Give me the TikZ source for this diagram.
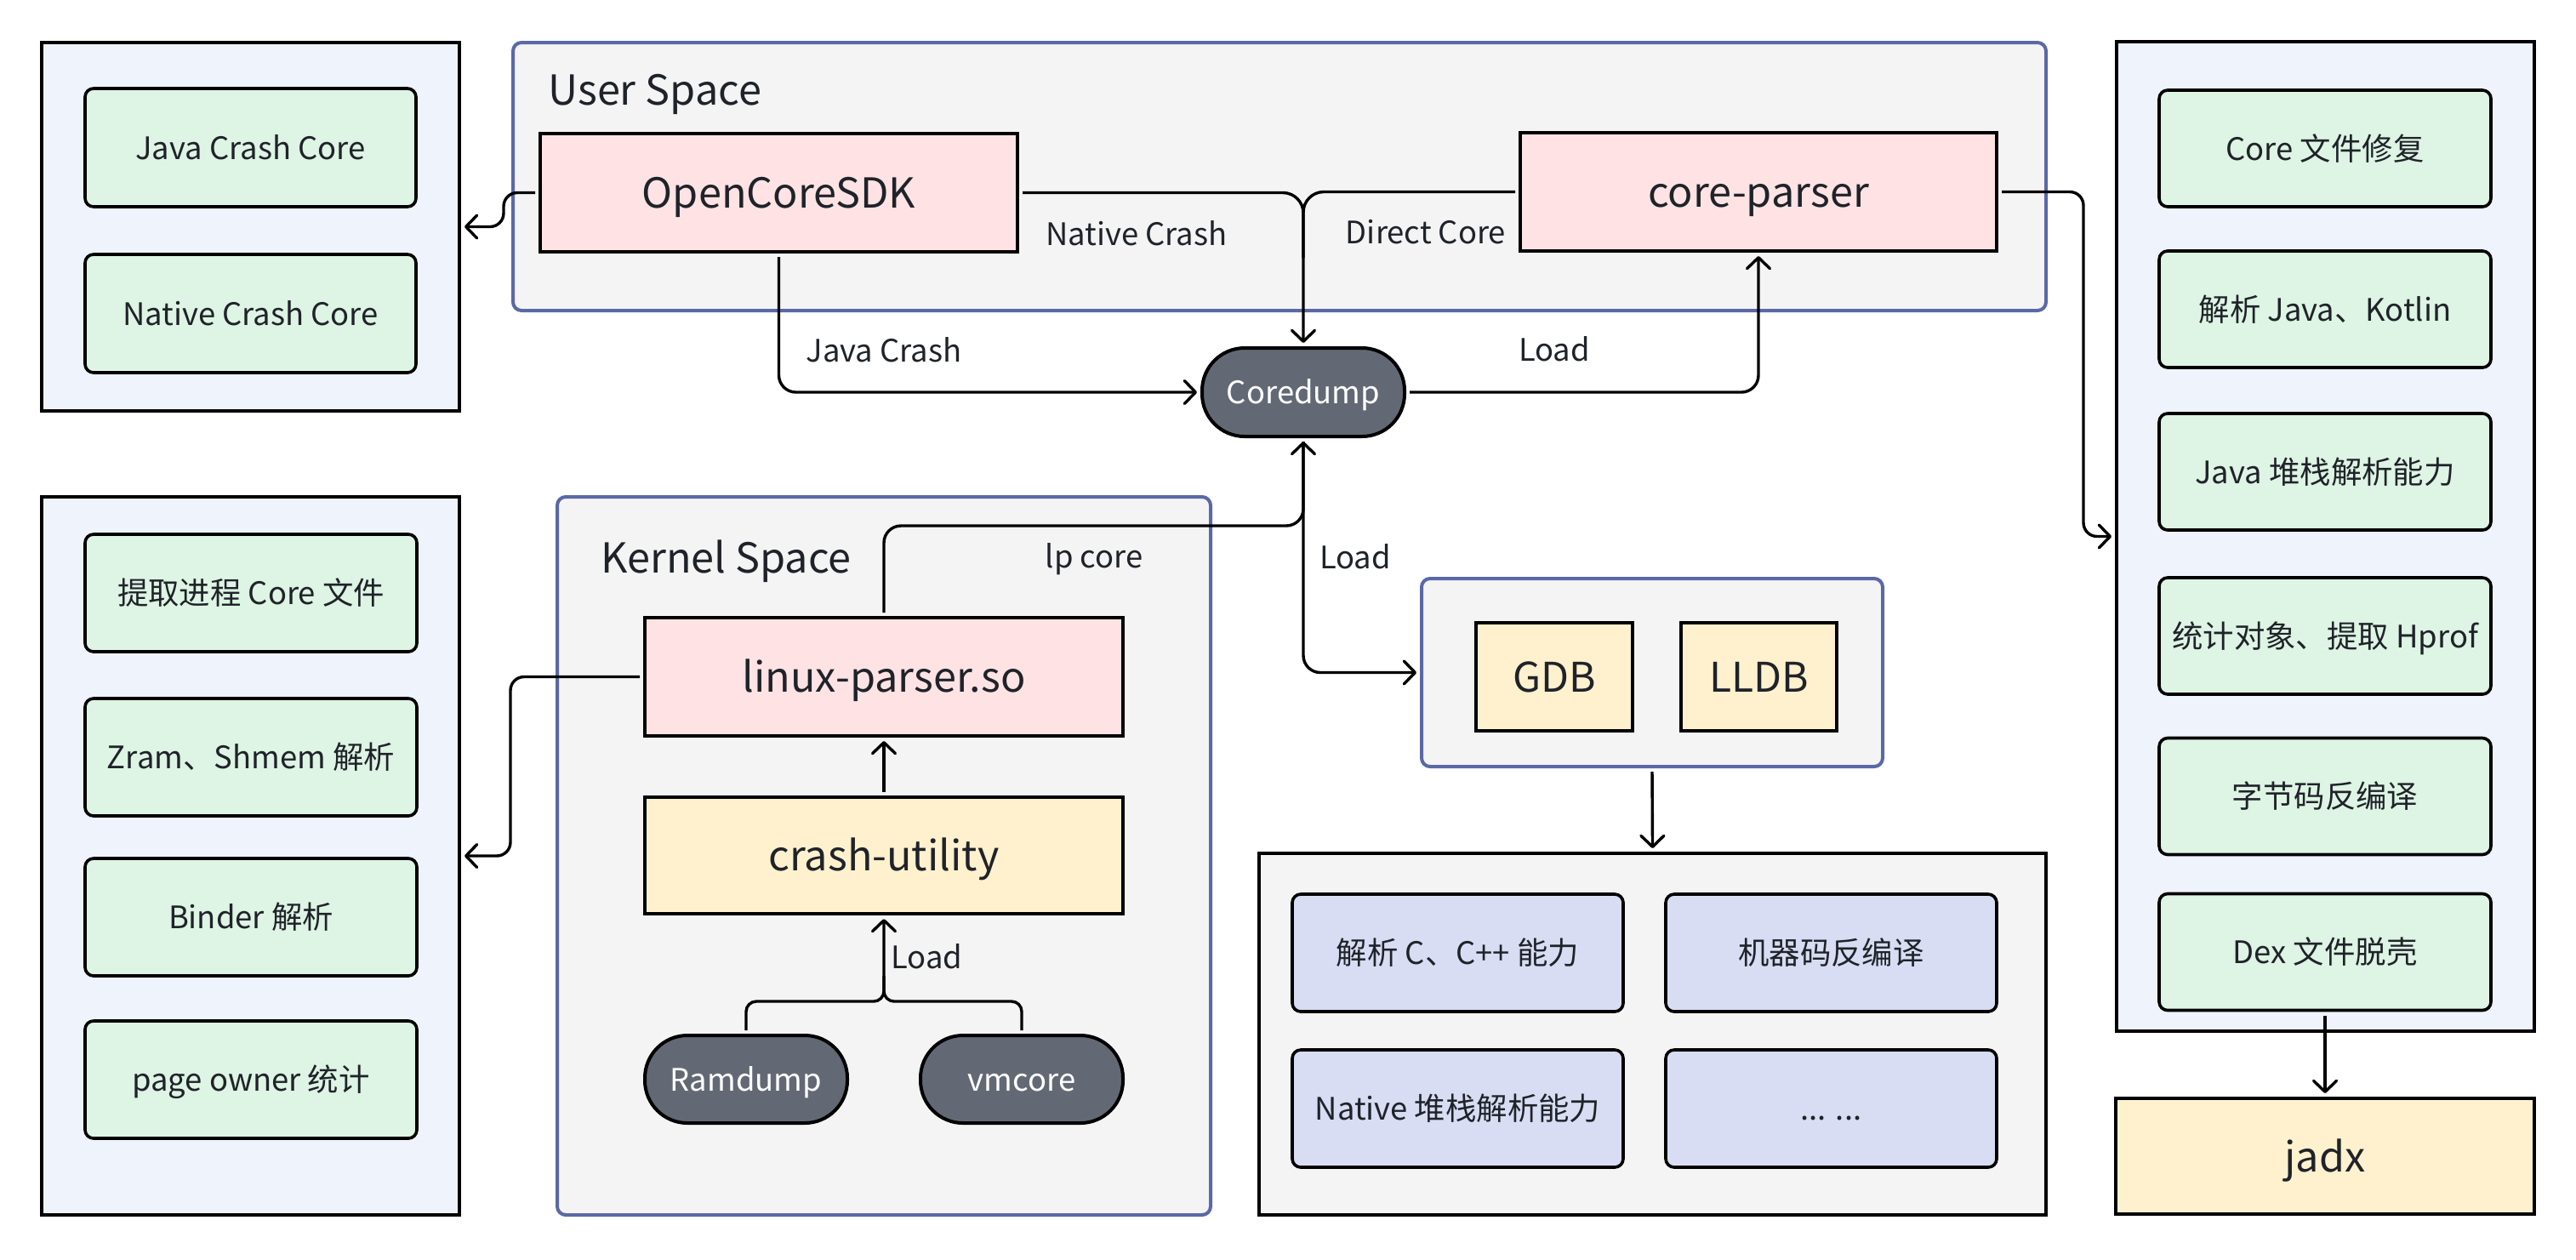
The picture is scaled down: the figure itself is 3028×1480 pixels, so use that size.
\documentclass[tikz,border=0pt]{standalone}
\usepackage{fontspec}
\setmainfont{Noto Sans CJK SC}
\usetikzlibrary{arrows.meta,calc}
\definecolor{panelblue}{HTML}{EEF3FC}
\definecolor{itemgreen}{HTML}{DEF4E4}
\definecolor{pinkc}{HTML}{FFE3E4}
\definecolor{yelc}{HTML}{FFF1CE}
\definecolor{lavc}{HTML}{D8DDF3}
\definecolor{contgray}{HTML}{F4F4F4}
\definecolor{contblue}{HTML}{5A69A6}
\definecolor{pillc}{HTML}{636974}
\definecolor{txt}{HTML}{1F2329}
\newcommand\myfs{\fontsize{18.2pt}{22pt}\selectfont}
\newcommand\myfb{\fontsize{24.3pt}{29pt}\selectfont}
\newcommand\myfg{\fontsize{24pt}{29pt}\selectfont}
\tikzset{
  wh/.style 2 args={minimum width=#1*0.5pt, minimum height=#2*0.5pt},
  nbase/.style={inner sep=0pt, outer sep=3pt, text=txt, align=center},
  smalltext/.style={font=\myfs, text height=14.6pt, text depth=0.7pt},
  bigtext/.style={font=\myfb, text height=19.4pt, text depth=1pt},
  panel/.style={nbase, draw=black, line width=2.25pt, fill=panelblue},
  gitem/.style={nbase, draw=black, line width=1.8pt, fill=itemgreen, rounded corners=5pt, smalltext},
  litem/.style={nbase, draw=black, line width=1.8pt, fill=lavc, rounded corners=5pt, smalltext},
  pinkbox/.style={nbase, draw=black, line width=2pt, fill=pinkc, bigtext},
  yelbox/.style={nbase, draw=black, line width=2pt, fill=yelc, bigtext},
  cont/.style={nbase, draw=contblue, line width=2pt, fill=contgray, rounded corners=5pt},
  graycont/.style={nbase, draw=black, line width=2pt, fill=contgray},
  pill/.style={nbase, draw=black, line width=2pt, fill=pillc, text=white, rounded corners=25pt, smalltext},
  lbl/.style={inner sep=0pt, text=txt, font=\myfs},
  conn/.style={draw=black, line width=1.7pt, rounded corners=10pt},
  arr/.style={conn, -{Straight Barb[length=6.5pt,width=13.5pt,round]}},
}
\begin{document}
\begin{tikzpicture}[x=0.5pt,y=-0.5pt]
\path[use as bounding box, fill=white] (0,0) rectangle (3028,1480);

% left top panel
\node[panel, wh={491}{433}] (ptl) at (294.5,266.5) {};
\node[gitem, wh={389}{139}] (jcc) at (294.5,173.5) {Java Crash Core};
\node[gitem, wh={389}{139}] (ncc) at (294.5,368.5) {Native Crash Core};

% left bottom panel
\node[panel, wh={491}{844}] (plb) at (294.5,1006) {};
\node[gitem, wh={390}{138}] (k1) at (295,697) {提取进程 Core 文件};
\node[gitem, wh={390}{138}] (k2) at (295,890) {Zram、Shmem 解析};
\node[gitem, wh={390}{138}] (k3) at (295,1078) {Binder 解析};
\node[gitem, wh={390}{138}] (k4) at (295,1269) {page owner 统计};

% user space
\node[cont, wh={1802}{315}] (us) at (1504,207.5) {};
\node[lbl, font=\myfb, anchor=base west] (uslbl) at (644,123) {User Space};
\node[pinkbox, wh={561}{139}] (sdk) at (915.5,226.5) {OpenCoreSDK};
\node[pinkbox, wh={560}{139}] (cp) at (2067,225.5) {core-parser};

% coredump
\node[pill, wh={238}{104}] (cd) at (1532,461) {Coredump};

% right panel
\node[panel, wh={491}{1163}] (prt) at (2733.5,630.5) {};
\node[gitem, wh={390}{137}] (r1) at (2733,174.5) {Core 文件修复};
\node[gitem, wh={390}{137}] (r2) at (2733,363.5) {解析 Java、Kotlin};
\node[gitem, wh={390}{137}] (r3) at (2733,554.5) {Java 堆栈解析能力};
\node[gitem, wh={390}{137}] (r4) at (2733,747.5) {统计对象、提取 Hprof};
\node[gitem, wh={390}{137}] (r5) at (2733,936) {字节码反编译};
\node[gitem, wh={390}{137}] (r6) at (2733,1119) {Dex 文件脱壳};
\node[yelbox, wh={492}{136}] (jadx) at (2733,1359) {jadx};

% kernel space
\node[cont, wh={768}{844}] (ks) at (1039,1006) {};
\node[lbl, font=\myfb, anchor=base west] (kslbl) at (706,673) {Kernel Space};
\node[pinkbox, wh={562}{139}] (lp) at (1039,795.5) {linux-parser.so};
\node[yelbox, wh={562}{137}] (cu) at (1039,1005.5) {crash-utility};
\node[pill, wh={238}{103}] (rd) at (877,1268.5) {Ramdump};
\node[pill, wh={238}{103}] (vm) at (1201,1268.5) {vmcore};

% debuggers
\node[cont, wh={542}{221}] (gdbc) at (1942,790.5) {};
\node[yelbox, font=\myfg, wh={184}{127}] (gdb) at (1827,795.5) {GDB};
\node[yelbox, font=\myfg, wh={183}{127}] (lldb) at (2067.5,795.5) {LLDB};

% native abilities
\node[graycont, wh={925}{425}] (bc) at (1942.5,1215.5) {};
\node[litem, wh={389}{138}] (n1) at (1713.5,1120) {解析 C、C++ 能力};
\node[litem, wh={389}{138}] (n2) at (2152.5,1120) {机器码反编译};
\node[litem, wh={389}{138}] (n3) at (1713.5,1303) {Native 堆栈解析能力};
\node[litem, wh={389}{138}] (n4) at (2152.5,1303) {... ...};

% connectors
\draw[arr, rounded corners=8pt] (sdk.west) -- ++(-37,0) |- (ptl.east);
\draw[arr, rounded corners=12pt] (sdk.east) -| (cd.north);
\draw[conn, rounded corners=12pt] (cp.west) -| ($(cd.north)+(0,-100)$);
\draw[arr] (sdk.south) |- (cd.west);
\draw[arr] (cd.east) -| (cp.south);
\draw[arr, rounded corners=8pt] (cp.east) -| ([xshift=-16.5pt]prt.west) -- (prt.west);
\draw[arr] (r6.south) -- (jadx.north);
\draw[arr, rounded corners=8pt] (lp.west) -| ([xshift=27pt]plb.east) -- (plb.east);
\draw[arr] (cu.north) -- (lp.south);
\coordinate (kmerge) at (1039,1177);
\draw[arr, rounded corners=6pt] (rd.north) |- (kmerge) -- (cu.south);
\draw[conn, rounded corners=6pt] (vm.north) |- (kmerge) -- ++(0,-30);
\draw[arr] (lp.north) |- ($(cd.south)+(0,99)$) -- (cd.south);
\draw[arr] (cd.south) |- (gdbc.west);
\draw[arr] (gdbc.south) -- (bc.north);

% labels
\node[lbl] (l1) at (1336,274) {Native Crash};
\node[lbl] (l2) at (1676,273) {Direct Core};
\node[lbl] (l3) at (1039,411) {Java Crash};
\node[lbl] (l4) at (1827,410) {Load};
\node[lbl] (l5) at (1286,657) {lp core};
\node[lbl] (l6) at (1593,654) {Load};
\node[lbl, anchor=west] (l7) at (1047,1124) {Load};
\end{tikzpicture}
\end{document}
